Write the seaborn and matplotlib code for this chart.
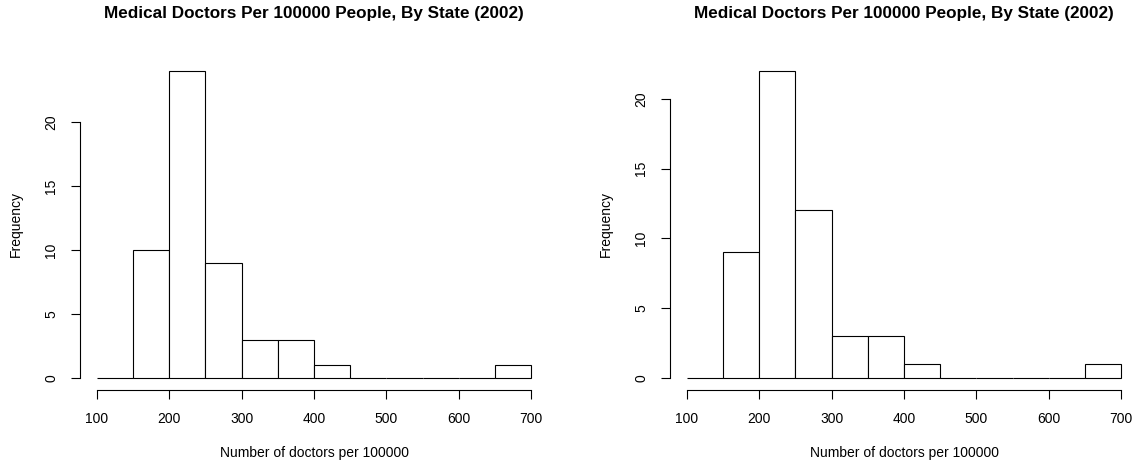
"""Two base-R style histograms of doctors per 100000 people by state."""

import numpy as np
import matplotlib
matplotlib.use("Agg")
import matplotlib.pyplot as plt
import seaborn as sns

# bin edges shared by both panels
bin_edges = [100, 150, 200, 250, 300, 350, 400, 450, 500, 550, 600, 650, 700]
# counts per bin
counts_left = [0, 10, 24, 9, 3, 3, 1, 0, 0, 0, 0, 1]
counts_right = [0, 9, 22, 12, 3, 3, 1, 0, 0, 0, 0, 1]

x_ticks = [100, 200, 300, 400, 500, 600, 700]
y_ticks = [0, 5, 10, 15, 20]

title = "Medical Doctors Per 100000 People, By State (2002)"
x_label = "Number of doctors per 100000"
y_label = "Frequency"

sns.set_style("ticks")
plt.rcParams["font.family"] = ["Liberation Sans", "DejaVu Sans"]
for key in ["text.color", "axes.labelcolor", "xtick.color", "ytick.color",
            "xtick.labelcolor", "ytick.labelcolor"]:
    plt.rcParams[key] = "black"

fig = plt.figure(figsize=(11.35, 4.62), dpi=100)

W, H = 1135, 462
ax_w = 468.8 / W
ax_h = 331.7 / H
ax_b = (H - 390.3) / H
lefts = [79.6 / W, 669.6 / W]

centers = [(a + b) / 2 for a, b in zip(bin_edges[:-1], bin_edges[1:])]

for left, counts in zip(lefts, [counts_left, counts_right]):
    ax = fig.add_axes([left, ax_b, ax_w, ax_h])
    sns.histplot(x=centers, weights=counts, bins=bin_edges, ax=ax,
                 color="white", edgecolor="black", linewidth=0.8, alpha=1)

    top = max(counts)
    span = bin_edges[-1] - bin_edges[0]
    ax.set_xlim(bin_edges[0] - 0.04 * span, bin_edges[-1] + 0.04 * span)
    ax.set_ylim(-0.04 * top, 1.04 * top)

    for side in ["top", "right"]:
        ax.spines[side].set_visible(False)
    ax.spines["left"].set_bounds(y_ticks[0], y_ticks[-1])
    ax.spines["bottom"].set_bounds(x_ticks[0], x_ticks[-1])
    for side in ["left", "bottom"]:
        ax.spines[side].set_linewidth(0.8)
        ax.spines[side].set_color("black")

    ax.set_xticks(x_ticks)
    ax.set_yticks(y_ticks)
    ax.set_yticklabels([str(v) for v in y_ticks], rotation=90, va="center")
    ax.tick_params(direction="out", length=6.3, width=0.8, color="black",
                   labelcolor="black", labelsize=10, pad=9)

    ax.set_xlabel(x_label, fontsize=10, color="black")
    ax.xaxis.set_label_coords(0.5, -62.7 / 331.7)
    ax.xaxis.label.set_va("center")
    ax.set_ylabel(y_label, fontsize=10, color="black")
    ax.yaxis.set_label_coords(-63.6 / 468.8, 0.5)
    ax.yaxis.label.set_va("center")

    ax.set_title(title, fontsize=12.3, fontweight="bold", color="black",
                 y=1 + 36.6 / 331.7, va="center")
    ax.grid(False)

fig.savefig("out.png", dpi=100, facecolor="white")
